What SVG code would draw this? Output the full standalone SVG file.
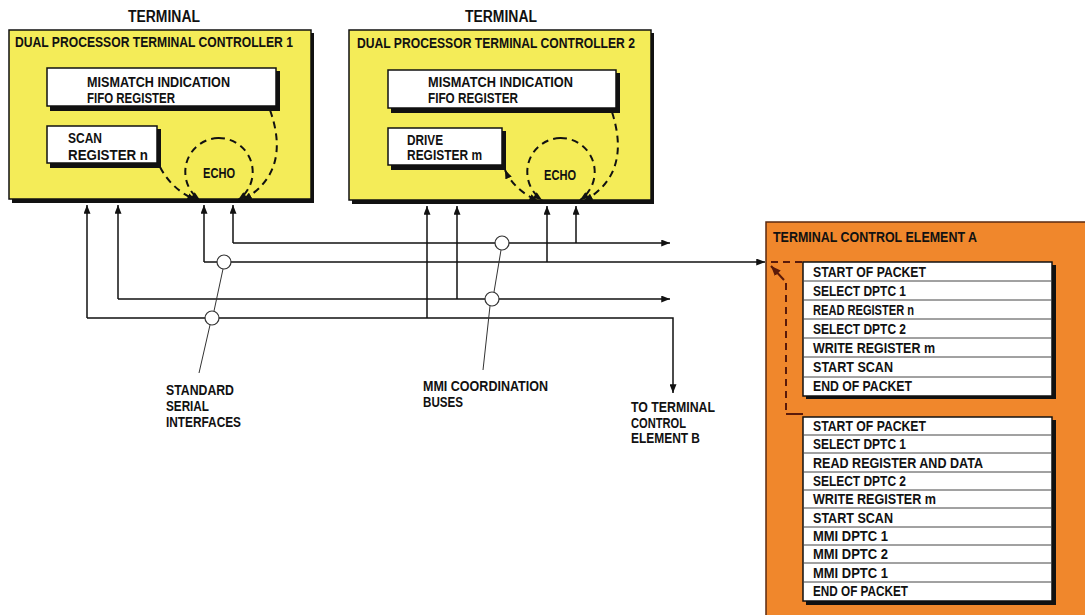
<svg xmlns="http://www.w3.org/2000/svg" width="1085" height="615" viewBox="0 0 1085 615">
<defs>
<style>
.t{font-family:"Liberation Sans",Arial,sans-serif;font-weight:bold;font-size:15px;fill:#111}
.h{font-family:"Liberation Sans",Arial,sans-serif;font-weight:bold;font-size:16px;fill:#111}
.ln{stroke:#111;stroke-width:1.5;fill:none}
.ld{stroke:#333;stroke-width:1;fill:none}
.ds{stroke:#111;stroke-width:2;fill:none;stroke-dasharray:7 5}
.dso{stroke:#5a1a0a;stroke-width:2;fill:none;stroke-dasharray:7 5}
.yel{fill:#f4ec58;stroke:#111;stroke-width:1.5}
.wht{fill:#fff;stroke:#111;stroke-width:1.5}
.sh{fill:#111}
.row{stroke:#444;stroke-width:1}
.ring{fill:#fff;stroke:#333;stroke-width:1.2}
</style>
<marker id="ar" viewBox="0 0 10 8" refX="10" refY="4" markerWidth="9" markerHeight="7" markerUnits="userSpaceOnUse" orient="auto"><path d="M0,0 L10,4 L0,8 z" fill="#111"/></marker>
<marker id="ar2" viewBox="0 0 10 8" refX="10" refY="4" markerWidth="9" markerHeight="7" markerUnits="userSpaceOnUse" orient="auto-start-reverse"><path d="M0,0 L10,4 L0,8 z" fill="#111"/></marker>
<marker id="aro" viewBox="0 0 10 8" refX="10" refY="4" markerWidth="10" markerHeight="8" markerUnits="userSpaceOnUse" orient="auto"><path d="M0,0 L10,4 L0,8 z" fill="#5a1a0a"/></marker>
</defs>
<rect width="1085" height="615" fill="#fff"/>

<g id="dptc1">
<text class="h" x="128" y="22" textLength="72" lengthAdjust="spacingAndGlyphs">TERMINAL</text>
<rect class="sh" x="12" y="33" width="302" height="170"/>
<rect class="yel" x="9" y="30" width="302" height="169"/>
<text class="t" x="15" y="47" textLength="278" lengthAdjust="spacingAndGlyphs">DUAL PROCESSOR TERMINAL CONTROLLER 1</text>
<rect class="sh" x="50" y="71" width="230" height="40"/>
<rect class="wht" x="47" y="68" width="229" height="38"/>
<text class="t" x="87" y="87" textLength="143" lengthAdjust="spacingAndGlyphs">MISMATCH INDICATION</text>
<text class="t" x="87" y="103" textLength="88" lengthAdjust="spacingAndGlyphs">FIFO REGISTER</text>
<rect class="sh" x="50" y="129" width="111" height="39"/>
<rect class="wht" x="47" y="126" width="110" height="37"/>
<text class="t" x="68" y="143" textLength="34" lengthAdjust="spacingAndGlyphs">SCAN</text>
<text class="t" x="68" y="160" textLength="80" lengthAdjust="spacingAndGlyphs">REGISTER n</text>
<text class="t" x="203" y="178" textLength="32" lengthAdjust="spacingAndGlyphs">ECHO</text>
<path class="ds" d="M218 138 A34 34 0 0 0 200 200" marker-end="url(#ar)"/>
<path class="ds" d="M218 138 A34 34 0 0 1 238 200" marker-end="url(#ar)"/>
<path class="ds" d="M160 167 Q172 190 196 200" marker-end="url(#ar)"/>
<path class="ds" d="M270 110 Q292 172 243 200" marker-end="url(#ar)"/>
</g>

<g id="dptc2">
<text class="h" x="465" y="22" textLength="72" lengthAdjust="spacingAndGlyphs">TERMINAL</text>
<rect class="sh" x="352" y="33" width="302" height="171"/>
<rect class="yel" x="349" y="30" width="302" height="170"/>
<text class="t" x="357" y="48" textLength="278" lengthAdjust="spacingAndGlyphs">DUAL PROCESSOR TERMINAL CONTROLLER 2</text>
<rect class="sh" x="391" y="73" width="229" height="40"/>
<rect class="wht" x="388" y="70" width="228" height="38"/>
<text class="t" x="428" y="87" textLength="145" lengthAdjust="spacingAndGlyphs">MISMATCH INDICATION</text>
<text class="t" x="428" y="103" textLength="90" lengthAdjust="spacingAndGlyphs">FIFO REGISTER</text>
<rect class="sh" x="391" y="131" width="115" height="39"/>
<rect class="wht" x="388" y="128" width="114" height="37"/>
<text class="t" x="407" y="145" textLength="36" lengthAdjust="spacingAndGlyphs">DRIVE</text>
<text class="t" x="407" y="160" textLength="75" lengthAdjust="spacingAndGlyphs">REGISTER m</text>
<text class="t" x="544" y="180" textLength="32" lengthAdjust="spacingAndGlyphs">ECHO</text>
<path class="ds" d="M560 138 A34 34 0 0 0 542 200" marker-end="url(#ar)"/>
<path class="ds" d="M560 138 A34 34 0 0 1 580 200" marker-end="url(#ar)"/>
<path class="ds" d="M505 170 Q514 190 538 201" marker-start="url(#ar2)" marker-end="url(#ar2)"/>
<path class="ds" d="M612 112 Q632 174 584 201" marker-end="url(#ar)"/>
</g>

<g id="tce-a">
<rect x="766" y="222" width="330" height="400" fill="#f0872c" stroke="#5a2a10" stroke-width="1.5"/>
<text class="t" x="773" y="242" textLength="204" lengthAdjust="spacingAndGlyphs">TERMINAL CONTROL ELEMENT A</text>
<path class="dso" d="M771 262 H803"/>
<path class="dso" d="M786 283 V414"/>
<path d="M786 414 H803" stroke="#5a1a0a" stroke-width="2" fill="none"/>
<path d="M784 280 L771 266" stroke="#5a1a0a" stroke-width="2" fill="none" marker-end="url(#aro)"/>
<g id="table1">
<rect class="sh" x="806" y="265" width="250" height="134"/>
<rect class="wht" x="803" y="262" width="249" height="134"/>
<path class="row" d="M803 281 H1052 M803 300 H1052 M803 319 H1052 M803 338 H1052 M803 357 H1052 M803 377 H1052"/>
<text class="t" x="813" y="277" textLength="113" lengthAdjust="spacingAndGlyphs">START OF PACKET</text>
<text class="t" x="813" y="296" textLength="93" lengthAdjust="spacingAndGlyphs">SELECT DPTC 1</text>
<text class="t" x="813" y="315" textLength="101" lengthAdjust="spacingAndGlyphs">READ REGISTER n</text>
<text class="t" x="813" y="334" textLength="93" lengthAdjust="spacingAndGlyphs">SELECT DPTC 2</text>
<text class="t" x="813" y="353" textLength="122" lengthAdjust="spacingAndGlyphs">WRITE REGISTER m</text>
<text class="t" x="813" y="372" textLength="80" lengthAdjust="spacingAndGlyphs">START SCAN</text>
<text class="t" x="813" y="391" textLength="99" lengthAdjust="spacingAndGlyphs">END OF PACKET</text>
</g>
<g id="table2">
<rect class="sh" x="806" y="420" width="250" height="185"/>
<rect class="wht" x="803" y="417" width="249" height="184"/>
<path class="row" d="M803 435 H1052 M803 453 H1052 M803 472 H1052 M803 490 H1052 M803 508 H1052 M803 527 H1052 M803 545 H1052 M803 563 H1052 M803 582 H1052"/>
<text class="t" x="813" y="431" textLength="113" lengthAdjust="spacingAndGlyphs">START OF PACKET</text>
<text class="t" x="813" y="449" textLength="93" lengthAdjust="spacingAndGlyphs">SELECT DPTC 1</text>
<text class="t" x="813" y="468" textLength="170" lengthAdjust="spacingAndGlyphs">READ REGISTER AND DATA</text>
<text class="t" x="813" y="486" textLength="93" lengthAdjust="spacingAndGlyphs">SELECT DPTC 2</text>
<text class="t" x="813" y="504" textLength="123" lengthAdjust="spacingAndGlyphs">WRITE REGISTER m</text>
<text class="t" x="813" y="523" textLength="80" lengthAdjust="spacingAndGlyphs">START SCAN</text>
<text class="t" x="813" y="541" textLength="75" lengthAdjust="spacingAndGlyphs">MMI DPTC 1</text>
<text class="t" x="813" y="559" textLength="75" lengthAdjust="spacingAndGlyphs">MMI DPTC 2</text>
<text class="t" x="813" y="578" textLength="75" lengthAdjust="spacingAndGlyphs">MMI DPTC 1</text>
<text class="t" x="813" y="596" textLength="95" lengthAdjust="spacingAndGlyphs">END OF PACKET</text>
</g>
</g>

<g id="connectors">
<path class="ln" d="M87 318 V205" marker-end="url(#ar)"/>
<path class="ln" d="M118 299 V205" marker-end="url(#ar)"/>
<path class="ln" d="M204 262 V205" marker-end="url(#ar)"/>
<path class="ln" d="M233 243 V205" marker-end="url(#ar)"/>
<path class="ln" d="M427 318 V206" marker-end="url(#ar)"/>
<path class="ln" d="M457 299 V206" marker-end="url(#ar)"/>
<path class="ln" d="M547 262 V206" marker-end="url(#ar)"/>
<path class="ln" d="M576 243 V206" marker-end="url(#ar)"/>
<path class="ln" d="M233 243 H670" marker-end="url(#ar)"/>
<path class="ln" d="M204 262 H765" marker-end="url(#ar)"/>
<path class="ln" d="M118 299 H670" marker-end="url(#ar)"/>
<path class="ln" d="M87 318 H673 V393" marker-end="url(#ar)"/>
</g>

<g id="ssi-label">
<circle class="ring" cx="224" cy="262" r="7"/>
<circle class="ring" cx="212" cy="318" r="7"/>
<path class="ld" d="M223 269 L214 311 M210 325 L199 373"/>
<text class="t" x="166" y="395" textLength="68" lengthAdjust="spacingAndGlyphs">STANDARD</text>
<text class="t" x="166" y="411" textLength="43" lengthAdjust="spacingAndGlyphs">SERIAL</text>
<text class="t" x="166" y="427" textLength="75" lengthAdjust="spacingAndGlyphs">INTERFACES</text>
</g>

<g id="mmi-label">
<circle class="ring" cx="502" cy="243" r="7"/>
<circle class="ring" cx="492" cy="299" r="7"/>
<path class="ld" d="M501 250 L494 292 M490 306 L483 370"/>
<text class="t" x="423" y="391" textLength="125" lengthAdjust="spacingAndGlyphs">MMI COORDINATION</text>
<text class="t" x="423" y="407" textLength="40" lengthAdjust="spacingAndGlyphs">BUSES</text>
</g>

<g id="tce-b-label">
<text class="t" x="631" y="412" textLength="84" lengthAdjust="spacingAndGlyphs">TO TERMINAL</text>
<text class="t" x="631" y="428" textLength="55" lengthAdjust="spacingAndGlyphs">CONTROL</text>
<text class="t" x="631" y="443" textLength="69" lengthAdjust="spacingAndGlyphs">ELEMENT B</text>
</g>
</svg>
